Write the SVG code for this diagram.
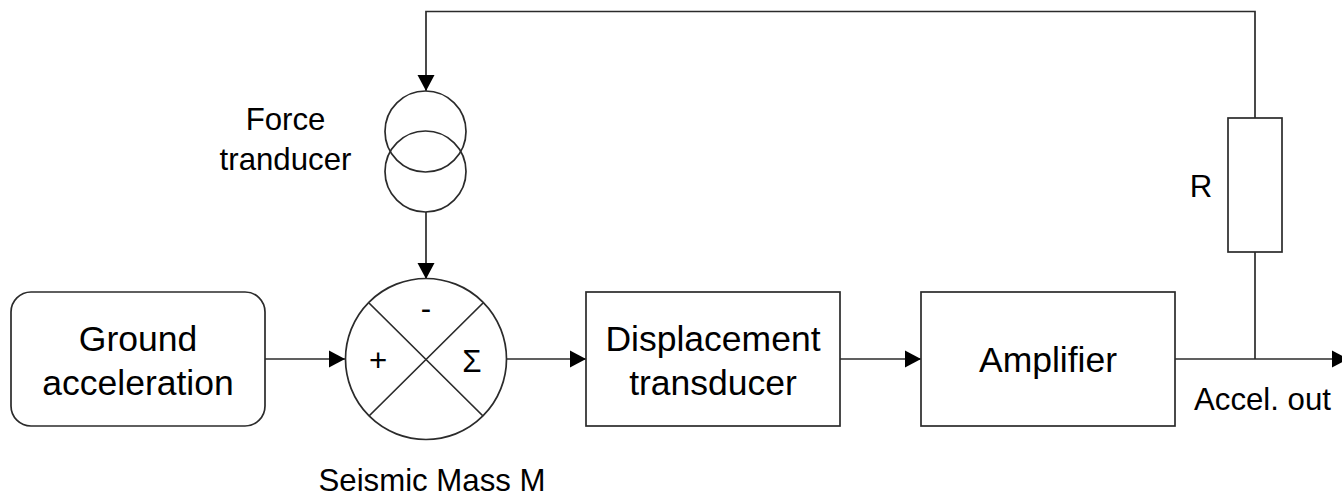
<svg xmlns="http://www.w3.org/2000/svg" width="1342" height="494" viewBox="0 0 1342 494">
<style>
.s{fill:none;stroke:#2b2b2b;stroke-width:1.7}
.n{fill:#fff;stroke:#2b2b2b;stroke-width:1.7}
.c{fill:none;stroke:#2b2b2b;stroke-width:1.7;marker-end:url(#a)}
text{font-family:"Liberation Sans",Arial,sans-serif;fill:#000;text-anchor:middle}
.l{font-size:35.5px}
.m{font-size:31.2px}
</style>
<defs><marker id="a" markerUnits="userSpaceOnUse" markerWidth="18" markerHeight="18" refX="16" refY="9" orient="auto"><path d="M0 .5L16 9L0 17.500Z" fill="#000"/></marker></defs>
<rect width="1342" height="494" fill="#fff"/>
<g id="connectors">
<path class="c" d="M1255 118V11.500H426V91"/>
<path class="c" d="M426 212V279"/>
<path class="c" d="M265 359H345"/>
<path class="c" d="M506 359H586"/>
<path class="c" d="M840 359H921"/>
<path class="c" d="M1175 359H1348"/>
<path class="s" d="M1255 252V359"/>
</g>
<g id="ground"><rect class="n" x="11" y="292" width="254" height="134" rx="20"/><text class="l" x="138" y="351">Ground</text><text class="l" x="138" y="395">acceleration</text></g>
<g id="force"><circle class="s" cx="425.500" cy="131.500" r="40.500"/><circle class="s" cx="425.500" cy="171.500" r="40.500"/><text class="m" x="285.500" y="130">Force</text><text class="m" x="285.500" y="170">tranducer</text></g>
<g id="sum"><circle class="n" cx="426" cy="359" r="80.500"/><path class="s" d="M369 303L483 416M483 303L369 416"/><text class="m" x="426" y="319">-</text><text class="m" x="378" y="371">+</text><text class="m" x="472" y="372">Σ</text><text class="m" x="432" y="491">Seismic Mass M</text></g>
<g id="displacement"><rect class="n" x="586" y="292" width="254" height="134"/><text class="l" x="713" y="351">Displacement</text><text class="l" x="713" y="395">transducer</text></g>
<g id="amplifier"><rect class="n" x="921" y="292" width="254" height="134"/><text class="l" x="1048" y="372">Amplifier</text></g>
<g id="resistor"><rect class="n" x="1228" y="118" width="54" height="134"/><text class="m" x="1201" y="197">R</text></g>
<g id="out"><text class="m" x="1262.500" y="410">Accel. out</text></g>
</svg>
